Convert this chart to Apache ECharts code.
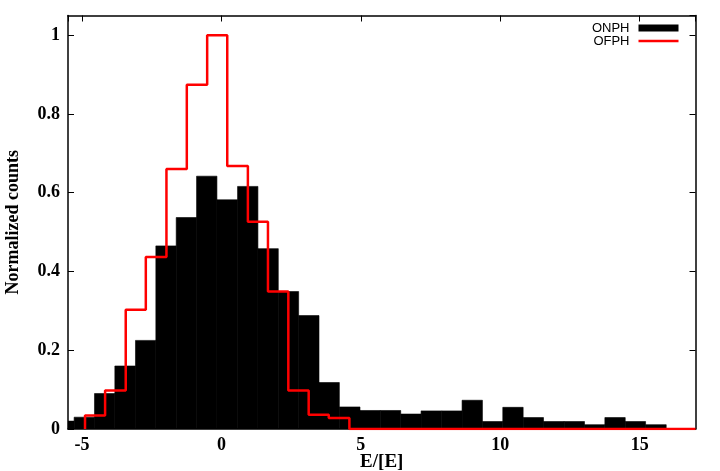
<!DOCTYPE html>
<html><head><meta charset="utf-8">
<script src="https://cdn.jsdelivr.net/npm/echarts@6.0.0/dist/echarts.min.js"></script>
<style>html,body{margin:0;padding:0;background:#fff}#c{width:720px;height:471px}</style>
</head><body><div id="c"></div>
<script>
// ONPH histogram: bin edges (E/[E]) and normalized counts per bin
const onphEdges = [-6.01, -5.28, -4.55, -3.82, -3.08, -2.35, -1.62, -0.89, -0.16, 0.58,
  1.31, 2.04, 2.77, 3.50, 4.23, 4.97, 5.70, 6.43, 7.16, 7.90,
  8.63, 9.36, 10.09, 10.82, 11.55, 12.29, 13.02, 13.75, 14.48, 15.21, 15.95];
const onphCounts = [0.020, 0.030, 0.090, 0.160, 0.225, 0.465, 0.537, 0.642, 0.582, 0.616,
  0.458, 0.349, 0.288, 0.118, 0.056, 0.047, 0.047, 0.038, 0.046, 0.046,
  0.073, 0.019, 0.055, 0.029, 0.019, 0.019, 0.011, 0.029, 0.019, 0.011];
// OFPH histogram: bin edges and normalized counts
const ofphEdges = [-4.89, -4.17, -3.43, -2.71, -1.97, -1.24, -0.51, 0.21, 0.95, 1.67, 2.40, 3.13, 3.85, 4.59];
const ofphCounts = [0.034, 0.098, 0.303, 0.437, 0.660, 0.874, 1.000, 0.668, 0.526, 0.349, 0.098, 0.036, 0.028];
const seriesNames = ['ONPH', 'OFPH'];
const xLabel = 'E/[E]';
const yLabel = 'Normalized counts';
const xMin = -5.5, xMax = 17, yMin = 0, yMax = 1.05, yStep = 0.2;

const onphData = onphCounts.map((v, i) => [onphEdges[i], onphEdges[i + 1], v]);
const ofphData = [[ofphEdges[0], 0]];
ofphCounts.forEach((v, i) => ofphData.push([ofphEdges[i], v]));
ofphData.push([ofphEdges[ofphEdges.length - 1], 0]);
ofphData.push([xMax, 0]);

const tickFont = {fontFamily: 'Liberation Serif', fontWeight: 'bold', fontSize: 18, color: '#000'};
const frameLine = {show: true, onZero: false, lineStyle: {color: '#000', width: 1.5}};
const innerTick = {show: true, inside: true, length: 6, lineStyle: {color: '#000', width: 1}};

const chart = echarts.init(document.getElementById('c'), null, {renderer: 'canvas'});
chart.setOption({
  animation: false,
  backgroundColor: '#fff',
  grid: {left: 68, right: 24.5, top: 15.5, bottom: 42, containLabel: false, outerBoundsMode: 'none'},
  legend: [
    {data: [{name: seriesNames[0], icon: 'rect'}], right: 41.5, top: 21.5, padding: 0,
     itemWidth: 40, itemHeight: 7, align: 'right', selectedMode: false,
     textStyle: {fontFamily: 'Liberation Sans', fontSize: 13, color: '#000', padding: [0, 4, 0, 0]}},
    {data: [{name: seriesNames[1], icon: 'rect'}], right: 41.5, top: 34.5, padding: 0,
     itemWidth: 40, itemHeight: 2.5, align: 'right', selectedMode: false,
     textStyle: {fontFamily: 'Liberation Sans', fontSize: 13, color: '#000', padding: [0, 4, 0, 0]}}
  ],
  xAxis: [
    {type: 'value', position: 'bottom', min: xMin, max: xMax, splitNumber: 5,
     axisLine: frameLine, axisTick: innerTick, splitLine: {show: false},
     axisLabel: Object.assign({margin: 7, showMinLabel: false, showMaxLabel: false}, tickFont),
     name: xLabel, nameLocation: 'middle', nameGap: 24, nameMoveOverlap: false,
     nameTextStyle: {fontFamily: 'Liberation Serif', fontWeight: 'bold', fontSize: 19, color: '#000'}},
    {type: 'value', position: 'top', min: xMin, max: xMax, splitNumber: 5,
     axisLine: frameLine, axisTick: innerTick, splitLine: {show: false}, axisLabel: {show: false}}
  ],
  yAxis: [
    {type: 'value', position: 'left', min: yMin, max: yMax, interval: yStep,
     axisLine: frameLine, axisTick: innerTick, splitLine: {show: false},
     axisLabel: Object.assign({margin: 8, showMaxLabel: false}, tickFont),
     name: yLabel, nameLocation: 'middle', nameGap: 46, nameMoveOverlap: false,
     nameTextStyle: {fontFamily: 'Liberation Serif', fontWeight: 'bold', fontSize: 18, color: '#000'}},
    {type: 'value', position: 'right', min: yMin, max: yMax, interval: yStep,
     axisLine: frameLine, axisTick: innerTick, splitLine: {show: false}, axisLabel: {show: false}}
  ],
  series: [
    {type: 'custom', name: seriesNames[0], clip: true, z: 2,
     itemStyle: {color: '#000'},
     encode: {x: [0, 1], y: 2},
     data: onphData,
     renderItem: function (params, api) {
       const p0 = api.coord([api.value(0), api.value(2)]);
       const p1 = api.coord([api.value(1), 0]);
       return {type: 'rect', shape: {x: p0[0], y: p0[1], width: p1[0] - p0[0], height: p1[1] - p0[1]},
               style: {fill: '#000', stroke: '#000', lineWidth: 0.6}};
     }},
    {type: 'line', name: seriesNames[1], step: 'end', symbol: 'none', clip: true, z: 3,
     data: ofphData,
     itemStyle: {color: '#ff0000'},
     lineStyle: {color: '#ff0000', width: 2.5}}
  ]
});
</script></body></html>
